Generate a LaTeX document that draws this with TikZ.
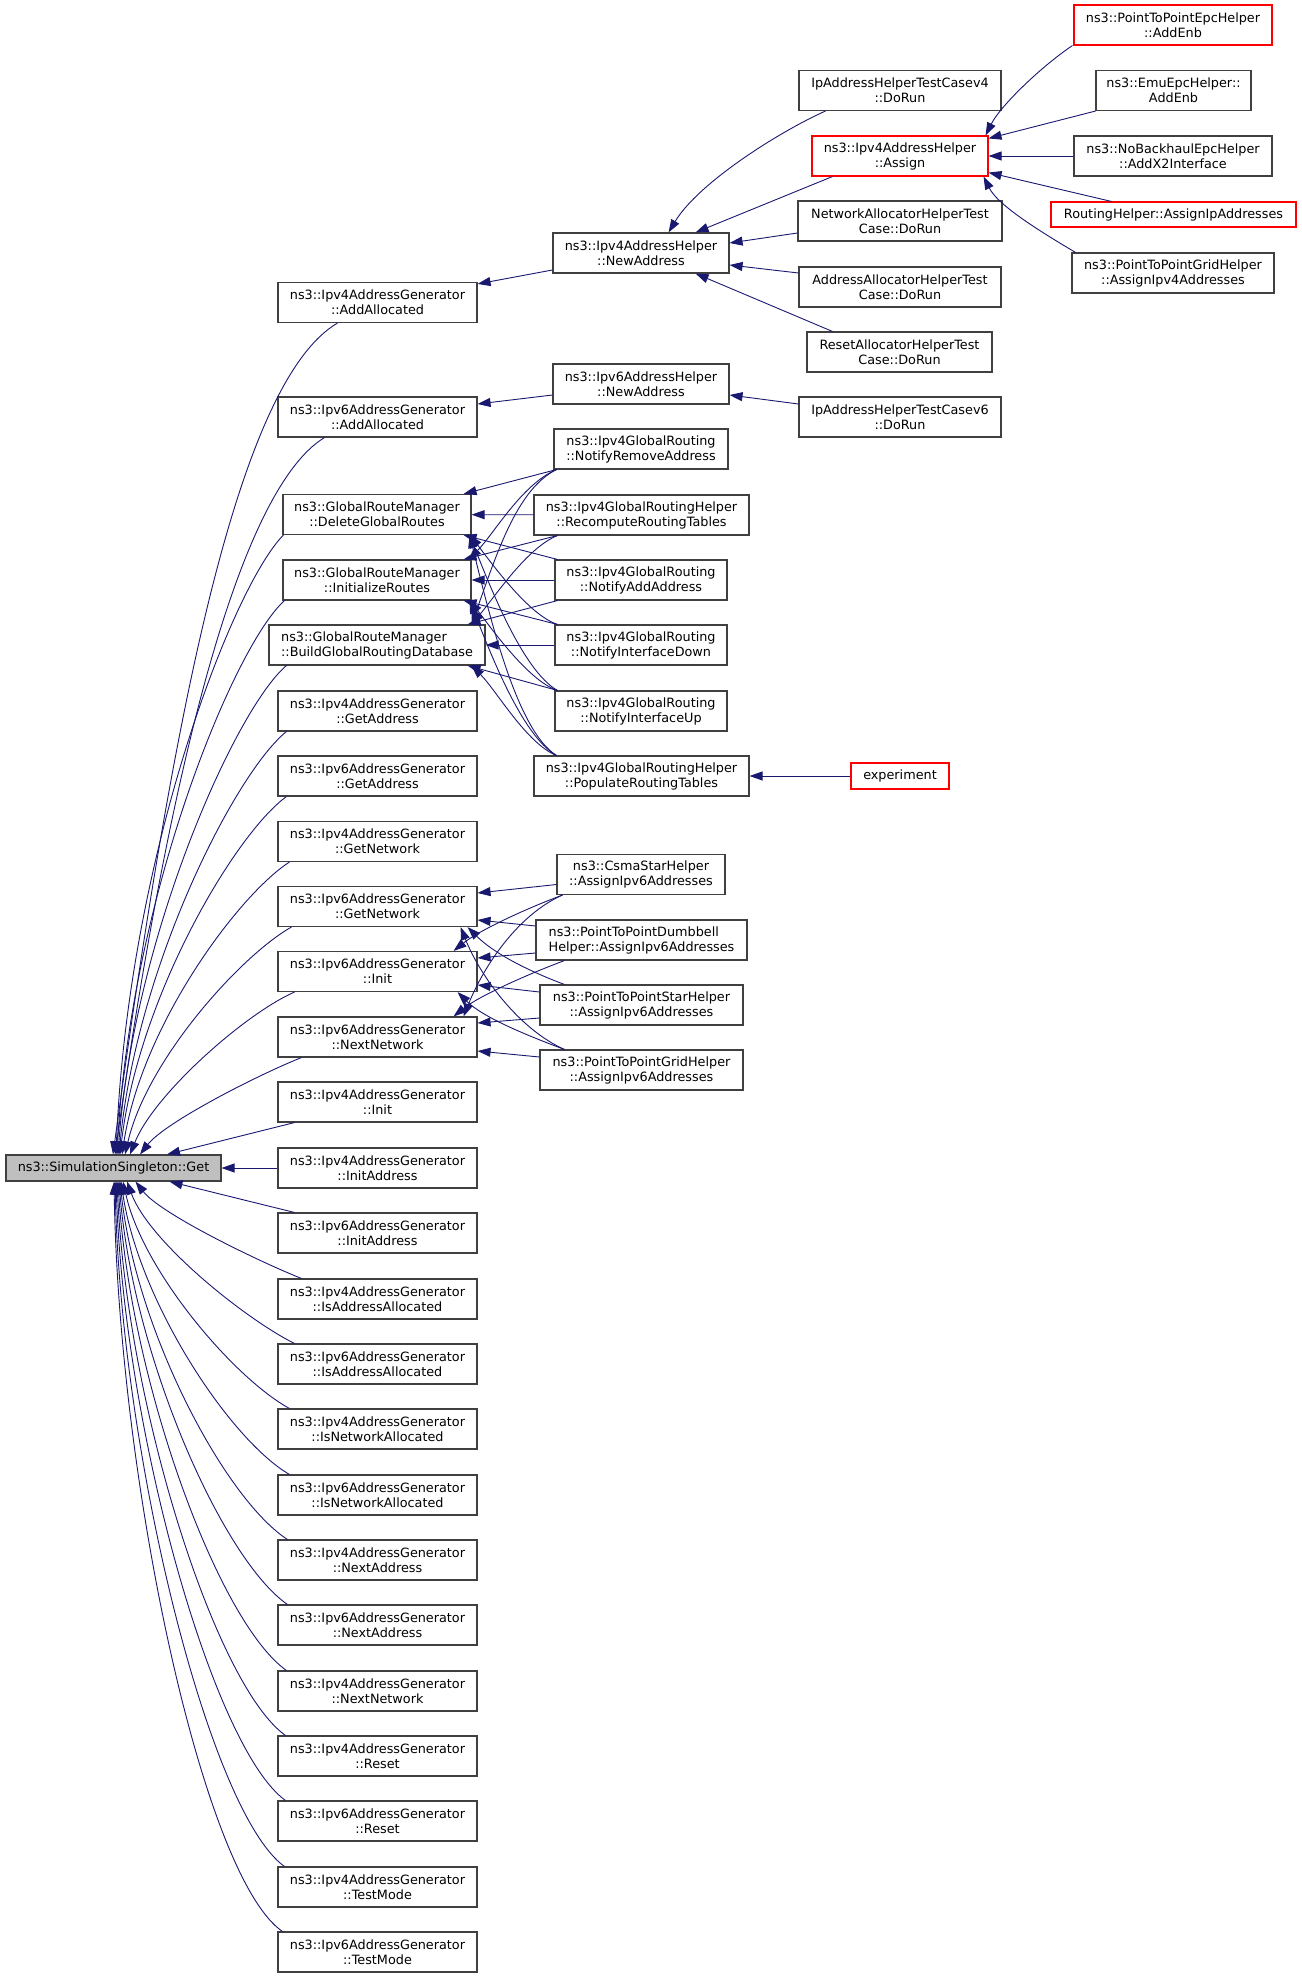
\documentclass[tikz,border=0pt]{standalone}
\usepackage{fontspec}
\setmainfont{DejaVu Sans}
\usepackage{xcolor}
\usetikzlibrary{arrows.meta}
\definecolor{edgeblue}{HTML}{191970}
\definecolor{rootgray}{HTML}{BFBFBF}

\begin{document}
\begin{tikzpicture}[
    x=1pt, y=-1pt,
    block/.style={
        draw=black!75,
        line width=1.1pt,
        rectangle,
        align=center,
        inner sep=2pt,
        minimum height=40pt,
        font=\fontsize{12.8}{15}\selectfont
    },
    gen/.style={block, minimum width=199pt},
    hot/.style={block, draw=red},
    rootbox/.style={block, fill=rootgray, minimum height=26pt},
    arrow/.style={draw=edgeblue, line width=0.9pt, -{Triangle[length=13pt, width=9pt]}}
]
\useasboundingbox (0,0) rectangle (1301,1977);

% ===== Root =====
\node[rootbox, minimum width=215pt] (get) at (113.5,1168) {ns3::SimulationSingleton::Get};

% ===== Direct callers =====
\node[gen] (gAddAlloc4) at (377.5,302.5) {ns3::Ipv4AddressGenerator\\::AddAllocated};
\node[gen] (gAddAlloc6) at (377.5,417) {ns3::Ipv6AddressGenerator\\::AddAllocated};
\node[block, minimum width=188pt] (delRoutes) at (377,514.5) {ns3::GlobalRouteManager\\::DeleteGlobalRoutes};
\node[block, minimum width=188pt] (initRoutes) at (377,580) {ns3::GlobalRouteManager\\::InitializeRoutes};
\node[block, minimum width=216pt, align=left] (buildDb) at (377,645) {ns3::GlobalRouteManager\\::BuildGlobalRoutingDatabase};
\node[gen] (gGetAddr4) at (377.5,711) {ns3::Ipv4AddressGenerator\\::GetAddress};
\node[gen] (gGetAddr6) at (377.5,776) {ns3::Ipv6AddressGenerator\\::GetAddress};
\node[gen] (gGetNet4) at (377.5,841.5) {ns3::Ipv4AddressGenerator\\::GetNetwork};
\node[gen] (gGetNet6) at (377.5,906.5) {ns3::Ipv6AddressGenerator\\::GetNetwork};
\node[gen] (gInit6) at (377.5,971.5) {ns3::Ipv6AddressGenerator\\::Init};
\node[gen] (gNextNet6) at (377.5,1037) {ns3::Ipv6AddressGenerator\\::NextNetwork};
\node[gen] (gInit4) at (377.5,1102) {ns3::Ipv4AddressGenerator\\::Init};
\node[gen] (gInitAddr4) at (377.5,1168) {ns3::Ipv4AddressGenerator\\::InitAddress};
\node[gen] (gInitAddr6) at (377.5,1233) {ns3::Ipv6AddressGenerator\\::InitAddress};
\node[gen] (gIsAddr4) at (377.5,1299) {ns3::Ipv4AddressGenerator\\::IsAddressAllocated};
\node[gen] (gIsAddr6) at (377.5,1364) {ns3::Ipv6AddressGenerator\\::IsAddressAllocated};
\node[gen] (gIsNet4) at (377.5,1429) {ns3::Ipv4AddressGenerator\\::IsNetworkAllocated};
\node[gen] (gIsNet6) at (377.5,1495) {ns3::Ipv6AddressGenerator\\::IsNetworkAllocated};
\node[gen] (gNextAddr4) at (377.5,1560) {ns3::Ipv4AddressGenerator\\::NextAddress};
\node[gen] (gNextAddr6) at (377.5,1625) {ns3::Ipv6AddressGenerator\\::NextAddress};
\node[gen] (gNextNet4) at (377.5,1691) {ns3::Ipv4AddressGenerator\\::NextNetwork};
\node[gen] (gReset4) at (377.5,1756) {ns3::Ipv4AddressGenerator\\::Reset};
\node[gen] (gReset6) at (377.5,1821) {ns3::Ipv6AddressGenerator\\::Reset};
\node[gen] (gTest4) at (377.5,1887) {ns3::Ipv4AddressGenerator\\::TestMode};
\node[gen] (gTest6) at (377.5,1952) {ns3::Ipv6AddressGenerator\\::TestMode};

% ===== Second level =====
\node[block, minimum width=176pt] (newAddr4) at (641,253) {ns3::Ipv4AddressHelper\\::NewAddress};
\node[block, minimum width=176pt] (newAddr6) at (641,384) {ns3::Ipv6AddressHelper\\::NewAddress};
\node[block, minimum width=174pt] (notifyRemove) at (641,449) {ns3::Ipv4GlobalRouting\\::NotifyRemoveAddress};
\node[block, minimum width=215pt] (recompute) at (641.5,515) {ns3::Ipv4GlobalRoutingHelper\\::RecomputeRoutingTables};
\node[block, minimum width=172pt] (notifyAdd) at (641,580) {ns3::Ipv4GlobalRouting\\::NotifyAddAddress};
\node[block, minimum width=172pt] (ifDown) at (641,645) {ns3::Ipv4GlobalRouting\\::NotifyInterfaceDown};
\node[block, minimum width=172pt] (ifUp) at (641,711) {ns3::Ipv4GlobalRouting\\::NotifyInterfaceUp};
\node[block, minimum width=215pt] (populate) at (641.5,776) {ns3::Ipv4GlobalRoutingHelper\\::PopulateRoutingTables};
\node[block, minimum width=168pt] (csmaStar) at (641,874.5) {ns3::CsmaStarHelper\\::AssignIpv6Addresses};
\node[block, minimum width=211pt, align=left] (dumbbell) at (641.5,940) {ns3::PointToPointDumbbell\\Helper::AssignIpv6Addresses};
\node[block, minimum width=203pt] (p2pStar) at (641.5,1005) {ns3::PointToPointStarHelper\\::AssignIpv6Addresses};
\node[block, minimum width=203pt] (p2pGrid6) at (641.5,1070) {ns3::PointToPointGridHelper\\::AssignIpv6Addresses};

% ===== Third level =====
\node[block, minimum width=202pt] (test4) at (900,90.5) {IpAddressHelperTestCasev4\\::DoRun};
\node[hot, minimum width=176pt] (assign) at (900,156) {ns3::Ipv4AddressHelper\\::Assign};
\node[block, minimum width=204pt] (netAlloc) at (900,221) {NetworkAllocatorHelperTest\\Case::DoRun};
\node[block, minimum width=202pt] (addrAlloc) at (900,287) {AddressAllocatorHelperTest\\Case::DoRun};
\node[block, minimum width=185pt] (resetAlloc) at (899.5,352) {ResetAllocatorHelperTest\\Case::DoRun};
\node[block, minimum width=202pt] (test6) at (900,417) {IpAddressHelperTestCasev6\\::DoRun};
\node[hot, minimum width=98pt, minimum height=26pt] (experiment) at (900,776) {experiment};

% ===== Fourth level =====
\node[hot, minimum width=198pt] (epcAddEnb) at (1173,25) {ns3::PointToPointEpcHelper\\::AddEnb};
\node[block, minimum width=155pt] (emuAddEnb) at (1173.5,90.5) {ns3::EmuEpcHelper::\\AddEnb};
\node[block, minimum width=198pt] (x2Iface) at (1173,156) {ns3::NoBackhaulEpcHelper\\::AddX2Interface};
\node[hot, minimum width=245pt, minimum height=25pt] (routingHelper) at (1173.5,214.5) {RoutingHelper::AssignIpAddresses};
\node[block, minimum width=202pt] (p2pGrid4) at (1173,273) {ns3::PointToPointGridHelper\\::AssignIpv4Addresses};

% ===== Arrows into root (upper) =====
\draw[arrow] ([xshift=60pt]gAddAlloc4.south west) .. controls +(-98,58) and +(62,-455) .. ([xshift=-0.5pt]get.north);
\draw[arrow] ([xshift=47pt]gAddAlloc6.south west) .. controls +(-90,55) and +(50,-355) .. ([xshift=1.5pt]get.north);
\draw[arrow] ([xshift=1pt]delRoutes.south west) .. controls +(-50,50) and +(12,-300) .. ([xshift=2.5pt]get.north);
\draw[arrow] ([xshift=2pt]initRoutes.south west) .. controls +(-50,45) and +(14,-260) .. ([xshift=3.5pt]get.north);
\draw[arrow] ([xshift=18pt]buildDb.south west) .. controls +(-50,42) and +(16,-220) .. ([xshift=4.5pt]get.north);
\draw[arrow] ([xshift=9pt]gGetAddr4.south west) .. controls +(-50,40) and +(18,-190) .. ([xshift=5.5pt]get.north);
\draw[arrow] ([xshift=9pt]gGetAddr6.south west) .. controls +(-50,36) and +(19,-160) .. ([xshift=6.5pt]get.north);
\draw[arrow] ([xshift=12pt]gGetNet4.south west) .. controls +(-50,32) and +(20,-130) .. ([xshift=8.5pt]get.north);
\draw[arrow] ([xshift=14pt]gGetNet6.south west) .. controls +(-50,28) and +(22,-95) .. ([xshift=11.5pt]get.north);
\draw[arrow] ([xshift=17pt]gInit6.south west) .. controls +(-50,22) and +(24,-60) .. ([xshift=16.5pt]get.north);
\draw[arrow] ([xshift=24pt]gNextNet6.south west) .. controls +(-45,18) and +(25,-32) .. ([xshift=26.5pt]get.north);
\draw[arrow] ([xshift=17pt]gInit4.south west) -- ([xshift=53.5pt]get.north);

% ===== Arrows into root (lower) =====
\draw[arrow] (gInitAddr4) -- (get);
\draw[arrow] ([xshift=17pt]gInitAddr6.north west) -- ([xshift=56pt]get.south);
\draw[arrow] ([xshift=24pt]gIsAddr4.north west) .. controls +(-45,-18) and +(25,32) .. ([xshift=22pt]get.south);
\draw[arrow] ([xshift=17pt]gIsAddr6.north west) .. controls +(-50,-25) and +(22,60) .. ([xshift=13.5pt]get.south);
\draw[arrow] ([xshift=12pt]gIsNet4.north west) .. controls +(-55,-30) and +(20,90) .. ([xshift=9.5pt]get.south);
\draw[arrow] ([xshift=12pt]gIsNet6.north west) .. controls +(-60,-35) and +(18,120) .. ([xshift=7.5pt]get.south);
\draw[arrow] ([xshift=10pt]gNextAddr4.north west) .. controls +(-62,-40) and +(16,150) .. ([xshift=6.5pt]get.south);
\draw[arrow] ([xshift=10pt]gNextAddr6.north west) .. controls +(-65,-45) and +(14,175) .. ([xshift=5.5pt]get.south);
\draw[arrow] ([xshift=9pt]gNextNet4.north west) .. controls +(-68,-48) and +(12,200) .. ([xshift=4.5pt]get.south);
\draw[arrow] ([xshift=8pt]gReset4.north west) .. controls +(-70,-50) and +(10,225) .. ([xshift=3.5pt]get.south);
\draw[arrow] ([xshift=8pt]gReset6.north west) .. controls +(-72,-52) and +(8,250) .. ([xshift=2.5pt]get.south);
\draw[arrow] ([xshift=7pt]gTest4.north west) .. controls +(-75,-54) and +(6,275) .. ([xshift=1.5pt]get.south);
\draw[arrow] ([xshift=5pt]gTest6.north west) .. controls +(-80,-55) and +(5,300) .. ([xshift=0.5pt]get.south);

% ===== Address helpers =====
\draw[arrow] ([yshift=-17pt]newAddr4.west) -- ([yshift=-2pt]gAddAlloc4.north east);
\draw[arrow] ([yshift=-11pt]newAddr6.west) -- ([yshift=13pt]gAddAlloc6.east);
\draw[arrow] ([yshift=13pt]test6.west) -- ([yshift=-11pt]newAddr6.east);
\draw[arrow] ([xshift=27pt]test4.south west) .. controls +(-45,20) and +(30,-50) .. ([xshift=-61pt]newAddr4.north east);
\draw[arrow] ([xshift=21pt]assign.south west) -- ([xshift=-34pt]newAddr4.north east);
\draw[arrow] ([yshift=-12pt]netAlloc.west) -- ([yshift=10pt]newAddr4.east);
\draw[arrow] ([yshift=14pt]addrAlloc.west) -- ([yshift=-12pt]newAddr4.east);
\draw[arrow] ([xshift=26pt]resetAlloc.north west) -- ([xshift=-34pt]newAddr4.south east);
\draw[arrow] ([xshift=-1pt]epcAddEnb.south west) .. controls +(-30,20) and +(15,-30) .. ([xshift=-3pt]assign.north east);
\draw[arrow] (emuAddEnb.south west) -- ([yshift=-3pt]assign.north east);
\draw[arrow] (x2Iface) -- (assign);
\draw[arrow] ([xshift=61pt]routingHelper.north west) -- ([yshift=4pt]assign.south east);
\draw[arrow] ([xshift=4pt]p2pGrid4.north west) .. controls +(-30,-18) and +(15,30) .. ([xshift=-5pt]assign.south east);

% ===== Global routing =====
\draw[arrow] ([xshift=3pt]notifyRemove.south west) -- ([xshift=-8pt]delRoutes.north east);
\draw[arrow] (recompute) -- (delRoutes);
\draw[arrow] ([xshift=3pt]notifyAdd.north west) -- ([xshift=-8pt]delRoutes.south east);
\draw[arrow] ([xshift=3pt]ifDown.north west) .. controls +(-30,-10) and +(20,25) .. ([xshift=-2pt]delRoutes.south east);
\draw[arrow] ([xshift=3pt]ifUp.north west) .. controls +(-35,-20) and +(20,50) .. ([xshift=-2pt]delRoutes.south east);
\draw[arrow] ([xshift=23pt]populate.north west) .. controls +(-40,-25) and +(20,80) .. ([xshift=-2pt]delRoutes.south east);

\draw[arrow] ([xshift=3pt]notifyRemove.south west) .. controls +(-35,15) and +(25,-25) .. ([xshift=-3pt]initRoutes.north east);
\draw[arrow] ([xshift=24pt]recompute.south west) -- ([xshift=-8pt]initRoutes.north east);
\draw[arrow] (notifyAdd) -- (initRoutes);
\draw[arrow] ([xshift=3pt]ifDown.north west) -- ([xshift=-8pt]initRoutes.south east);
\draw[arrow] ([xshift=3pt]ifUp.north west) .. controls +(-30,-10) and +(20,25) .. ([xshift=-2pt]initRoutes.south east);
\draw[arrow] ([xshift=23pt]populate.north west) .. controls +(-35,-20) and +(20,50) .. ([xshift=-2pt]initRoutes.south east);

\draw[arrow] ([xshift=3pt]notifyRemove.south west) .. controls +(-40,20) and +(25,-70) .. ([xshift=-14pt]buildDb.north east);
\draw[arrow] ([xshift=24pt]recompute.south west) .. controls +(-30,12) and +(25,-30) .. ([xshift=-14pt]buildDb.north east);
\draw[arrow] ([xshift=3pt]notifyAdd.south west) -- ([xshift=-18pt]buildDb.north east);
\draw[arrow] (ifDown) -- (buildDb);
\draw[arrow] ([xshift=3pt]ifUp.north west) -- ([xshift=-18pt]buildDb.south east);
\draw[arrow] ([xshift=23pt]populate.north west) .. controls +(-30,-12) and +(25,25) .. ([xshift=-14pt]buildDb.south east);

\draw[arrow] (experiment) -- (populate);

% ===== Ipv6 assign helpers =====
\draw[arrow] ([yshift=-10pt]csmaStar.west) -- ([yshift=13.5pt]gGetNet6.east);
\draw[arrow] ([yshift=14pt]dumbbell.west) -- ([yshift=-13.5pt]gGetNet6.east);
\draw[arrow] ([xshift=25pt]p2pStar.north west) .. controls +(-40,-15) and +(25,25) .. ([xshift=-10pt]gGetNet6.south east);
\draw[arrow] ([xshift=25pt]p2pGrid6.north west) .. controls +(-45,-20) and +(20,50) .. ([xshift=-17pt]gGetNet6.south east);

\draw[arrow] ([xshift=6pt]csmaStar.south west) .. controls +(-40,15) and +(25,-20) .. ([xshift=-24pt]gInit6.north east);
\draw[arrow] ([yshift=-13pt]dumbbell.west) -- ([yshift=13.5pt]gInit6.east);
\draw[arrow] ([yshift=13pt]p2pStar.west) -- ([yshift=-13.5pt]gInit6.east);
\draw[arrow] ([xshift=25pt]p2pGrid6.north west) .. controls +(-40,-15) and +(25,25) .. ([xshift=-20pt]gInit6.south east);

\draw[arrow] ([xshift=6pt]csmaStar.south west) .. controls +(-45,20) and +(20,-50) .. ([xshift=-14pt]gNextNet6.north east);
\draw[arrow] ([xshift=29pt]dumbbell.south west) .. controls +(-40,15) and +(25,-20) .. ([xshift=-24pt]gNextNet6.north east);
\draw[arrow] ([yshift=-13pt]p2pStar.west) -- ([yshift=14pt]gNextNet6.east);
\draw[arrow] ([yshift=13pt]p2pGrid6.west) -- ([yshift=-14pt]gNextNet6.east);

\end{tikzpicture}
\end{document}
